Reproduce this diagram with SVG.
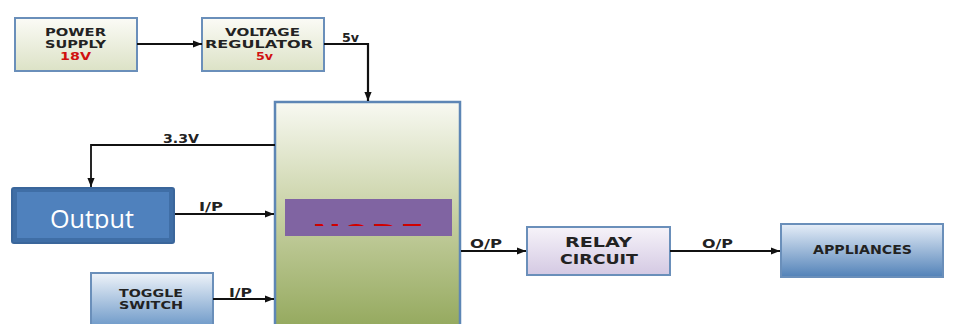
<svg xmlns="http://www.w3.org/2000/svg" width="964" height="324" viewBox="0 0 964 324">
<defs>
<linearGradient id="gBeige" x1="0" y1="0" x2="0" y2="1"><stop offset="0" stop-color="#fbfbf6"/><stop offset="1" stop-color="#dce2c6"/></linearGradient>
<linearGradient id="gNode" x1="0" y1="0" x2="0" y2="1"><stop offset="0" stop-color="#f8f9f2"/><stop offset="0.45" stop-color="#c9d2a6"/><stop offset="1" stop-color="#8ea455"/></linearGradient>
<linearGradient id="gToggle" x1="0" y1="0" x2="0" y2="1"><stop offset="0" stop-color="#eef3f9"/><stop offset="1" stop-color="#5f8fc3"/></linearGradient>
<linearGradient id="gRelay" x1="0" y1="0" x2="0" y2="1"><stop offset="0" stop-color="#f6f3f9"/><stop offset="1" stop-color="#d4c9e3"/></linearGradient>
<linearGradient id="gApp" x1="0" y1="0" x2="0" y2="1"><stop offset="0" stop-color="#e6eef8"/><stop offset="1" stop-color="#5282b8"/></linearGradient>
<marker id="arr" viewBox="0 0 10 10" refX="10" refY="5" markerWidth="11" markerHeight="9" markerUnits="userSpaceOnUse" orient="auto"><path d="M0,1 L10,5 L0,9 Z" fill="#111"/></marker>
<clipPath id="clipNode"><rect x="285" y="199" width="167" height="27"/></clipPath>
<clipPath id="clipOut"><rect x="11" y="187" width="164" height="42"/></clipPath>
</defs>
<style>
.box{stroke:#6a8fba;stroke-width:2}
.lbl{font-family:"DejaVu Sans",Verdana,sans-serif;font-weight:bold;font-size:11px;fill:#222}
.cl{font-size:11.5px}
.big{font-size:14px}
.red{fill:#d01010}
.wire{fill:none;stroke:#111;stroke-width:1.8}
</style>
<rect width="964" height="324" fill="#ffffff"/>
<g id="power-supply">
<rect class="box" x="15" y="18" width="122" height="53" fill="url(#gBeige)"/>
<text class="lbl" x="45" y="36" textLength="61" lengthAdjust="spacingAndGlyphs">POWER</text>
<text class="lbl" x="45" y="48" textLength="61" lengthAdjust="spacingAndGlyphs">SUPPLY</text>
<text class="lbl red" x="60" y="60" textLength="31" lengthAdjust="spacingAndGlyphs">18V</text>
</g>
<g id="voltage-regulator">
<rect class="box" x="202" y="18" width="122" height="53" fill="url(#gBeige)"/>
<text class="lbl" x="225" y="36" textLength="75" lengthAdjust="spacingAndGlyphs">VOLTAGE</text>
<text class="lbl" x="205" y="48" textLength="108" lengthAdjust="spacingAndGlyphs">REGULATOR</text>
<text class="lbl red" x="256" y="60" textLength="17" lengthAdjust="spacingAndGlyphs">5v</text>
</g>
<g id="node">
<rect x="275" y="102" width="185" height="240" fill="url(#gNode)" stroke="#5d86b5" stroke-width="2.5"/>
<rect x="285" y="199" width="167" height="37" fill="#8064a2"/>
<text clip-path="url(#clipNode)" x="368" y="246" text-anchor="middle" font-family="DejaVu Sans, sans-serif" font-weight="bold" font-size="30" fill="#d00000" textLength="112" lengthAdjust="spacingAndGlyphs">NODE</text>
</g>
<g id="output">
<rect x="12" y="188" width="162" height="55" rx="2" fill="#3f6ea6" stroke="#3a669b" stroke-width="2"/>
<rect x="17" y="192" width="152" height="46" fill="#4f81bd"/>
<text clip-path="url(#clipOut)" x="50" y="228" font-family="Open Sans, sans-serif" font-size="25" fill="#ffffff" textLength="84" lengthAdjust="spacingAndGlyphs">Output</text>
</g>
<g id="toggle-switch">
<rect class="box" x="91" y="273" width="122" height="60" fill="url(#gToggle)"/>
<text class="lbl" x="119" y="297" textLength="64" lengthAdjust="spacingAndGlyphs">TOGGLE</text>
<text class="lbl" x="119" y="309" textLength="64" lengthAdjust="spacingAndGlyphs">SWITCH</text>
</g>
<g id="relay-circuit">
<rect class="box" x="527" y="227" width="143" height="48" fill="url(#gRelay)"/>
<text class="lbl big" x="565" y="247" textLength="67" lengthAdjust="spacingAndGlyphs">RELAY</text>
<text class="lbl big" x="560" y="264" textLength="78" lengthAdjust="spacingAndGlyphs">CIRCUIT</text>
</g>
<g id="appliances">
<rect class="box" x="781" y="224" width="162" height="53" fill="url(#gApp)"/>
<text class="lbl cl" x="813" y="254" textLength="99" lengthAdjust="spacingAndGlyphs">APPLIANCES</text>
</g>
<g id="connectors">
<line class="wire" x1="137" y1="44" x2="202" y2="44" marker-end="url(#arr)"/>
<polyline class="wire" points="324,44 368,44 368,101" marker-end="url(#arr)" style="stroke-width:2.2"/>
<polyline class="wire" points="275,145 91,145 91,187" marker-end="url(#arr)"/>
<line class="wire" x1="175" y1="214" x2="274" y2="214" marker-end="url(#arr)"/>
<line class="wire" x1="213" y1="299" x2="274" y2="299" marker-end="url(#arr)"/>
<line class="wire" x1="461" y1="251" x2="526" y2="251" marker-end="url(#arr)"/>
<line class="wire" x1="670" y1="251" x2="780" y2="251" marker-end="url(#arr)"/>
<text class="lbl cl" x="342" y="42" textLength="17" lengthAdjust="spacingAndGlyphs">5v</text>
<text class="lbl cl" x="163" y="143" textLength="36" lengthAdjust="spacingAndGlyphs">3.3V</text>
<text class="lbl cl" x="199" y="211" textLength="24" lengthAdjust="spacingAndGlyphs">I/P</text>
<text class="lbl cl" x="229" y="297" textLength="23" lengthAdjust="spacingAndGlyphs">I/P</text>
<text class="lbl cl" x="470" y="248" textLength="32" lengthAdjust="spacingAndGlyphs">O/P</text>
<text class="lbl cl" x="702" y="248" textLength="31" lengthAdjust="spacingAndGlyphs">O/P</text>
</g>
</svg>
